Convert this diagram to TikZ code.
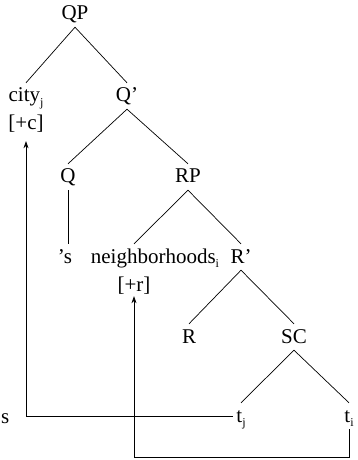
\documentclass[tikz,border=0pt]{standalone}
\usepackage{fontspec}
\setmainfont{Liberation Serif}
\usetikzlibrary{arrows.meta,calc}
\newcommand\lsub[1]{\raisebox{-4.5bp}{\fontsize{12bp}{12bp}\selectfont #1}}
\tikzset{
  lab/.style={anchor=base, inner xsep=3bp, inner ysep=4bp, text height=15bp, text depth=3bp},
  feat/.style={anchor=base, inner xsep=3bp, inner ysep=2bp, text height=15bp, text depth=3bp},
  edge/.style={line width=0.7bp},
  arr/.style={line width=0.7bp, -{Stealth[length=7bp,width=5bp]}}
}
\begin{document}
\begin{tikzpicture}[x=1bp,y=-1bp,font=\fontsize{21bp}{25bp}\selectfont]
\useasboundingbox (0,0) rectangle (357,460);
% labels
\node[lab] (QP) at (75,20) {QP};
\node[lab] (city) at (26,102) {city\lsub{j}};
\node[feat] (pc) at (26,130) {[+c]};
\node[lab] (Qb) at (127,102) {Q’};
\node[lab] (Q) at (68,183) {Q};
\node[lab] (RP) at (188,183) {RP};
\node[lab] (s) at (65,263) {’s};
\node[lab] (nb) at (155,263) {neighborhoods\lsub{i}};
\node[feat] (pr) at (134,291) {[+r]};
\node[lab] (Rb) at (241,263) {R’};
\node[lab] (R) at (189,343) {R};
\node[lab] (SC) at (294,343) {SC};
\node[lab] (tj) at (241,422) {t\lsub{j}};
\node[lab] (ti) at (349,422) {t\lsub{i}};
\node[lab, anchor=base west, inner xsep=0pt] (ss) at (1,423) {s};
% tree edges
\draw[edge] (QP.south) -- (city.north);
\draw[edge] (QP.south) -- (Qb.north);
\draw[edge] (Qb.south) -- (Q.north);
\draw[edge] (Qb.south) -- (RP.north);
\draw[edge] (Q.south) -- (s.north -| Q.south);
\draw[edge] (RP.south) -- (nb.north -| pr.south);
\draw[edge] (RP.south) -- (Rb.north);
\draw[edge] (Rb.south) -- (R.north);
\draw[edge] (Rb.south) -- (SC.north);
\draw[edge] (SC.south) -- (tj.north);
\draw[edge] (SC.south) -- (ti.north);
% movement arrows
\draw[arr] (tj.west) -| ([yshift=-6bp]pc.south);
\draw[arr] (ti.south) -- ++(0,28) -| (pr.south);
\end{tikzpicture}
\end{document}
